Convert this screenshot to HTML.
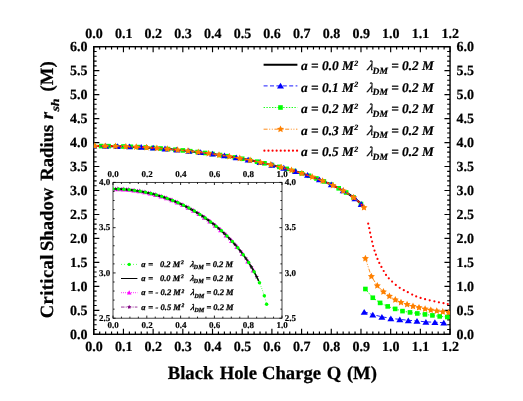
<!DOCTYPE html>
<html><head><meta charset="utf-8"><title>Critical Shadow Radius</title>
<style>
html,body{margin:0;padding:0;background:#fff;}
body{width:523px;height:401px;overflow:hidden;position:relative;font-family:"Liberation Serif",serif;}
</style></head><body>
<svg width="523" height="401" viewBox="0 0 523 401" style="position:absolute;left:0;top:0;will-change:transform" text-rendering="geometricPrecision">
<rect width="523" height="401" fill="#fff"/>
<g stroke="#000" fill="none" stroke-linecap="butt">
<rect x="93.75" y="46.7" width="356.3" height="287.6" stroke-width="1.4"/>
<path d="M93.75 46.7 v5.6 M93.75 334.3 v-5.6 M99.69 46.7 v2.9 M99.69 334.3 v-2.9 M105.63 46.7 v2.9 M105.63 334.3 v-2.9 M111.56 46.7 v2.9 M111.56 334.3 v-2.9 M117.5 46.7 v2.9 M117.5 334.3 v-2.9 M123.44 46.7 v5.6 M123.44 334.3 v-5.6 M129.38 46.7 v2.9 M129.38 334.3 v-2.9 M135.32 46.7 v2.9 M135.32 334.3 v-2.9 M141.26 46.7 v2.9 M141.26 334.3 v-2.9 M147.19 46.7 v2.9 M147.19 334.3 v-2.9 M153.13 46.7 v5.6 M153.13 334.3 v-5.6 M159.07 46.7 v2.9 M159.07 334.3 v-2.9 M165.01 46.7 v2.9 M165.01 334.3 v-2.9 M170.95 46.7 v2.9 M170.95 334.3 v-2.9 M176.89 46.7 v2.9 M176.89 334.3 v-2.9 M182.82 46.7 v5.6 M182.82 334.3 v-5.6 M188.76 46.7 v2.9 M188.76 334.3 v-2.9 M194.7 46.7 v2.9 M194.7 334.3 v-2.9 M200.64 46.7 v2.9 M200.64 334.3 v-2.9 M206.58 46.7 v2.9 M206.58 334.3 v-2.9 M212.52 46.7 v5.6 M212.52 334.3 v-5.6 M218.45 46.7 v2.9 M218.45 334.3 v-2.9 M224.39 46.7 v2.9 M224.39 334.3 v-2.9 M230.33 46.7 v2.9 M230.33 334.3 v-2.9 M236.27 46.7 v2.9 M236.27 334.3 v-2.9 M242.21 46.7 v5.6 M242.21 334.3 v-5.6 M248.15 46.7 v2.9 M248.15 334.3 v-2.9 M254.09 46.7 v2.9 M254.09 334.3 v-2.9 M260.02 46.7 v2.9 M260.02 334.3 v-2.9 M265.96 46.7 v2.9 M265.96 334.3 v-2.9 M271.9 46.7 v5.6 M271.9 334.3 v-5.6 M277.84 46.7 v2.9 M277.84 334.3 v-2.9 M283.78 46.7 v2.9 M283.78 334.3 v-2.9 M289.72 46.7 v2.9 M289.72 334.3 v-2.9 M295.65 46.7 v2.9 M295.65 334.3 v-2.9 M301.59 46.7 v5.6 M301.59 334.3 v-5.6 M307.53 46.7 v2.9 M307.53 334.3 v-2.9 M313.47 46.7 v2.9 M313.47 334.3 v-2.9 M319.41 46.7 v2.9 M319.41 334.3 v-2.9 M325.35 46.7 v2.9 M325.35 334.3 v-2.9 M331.28 46.7 v5.6 M331.28 334.3 v-5.6 M337.22 46.7 v2.9 M337.22 334.3 v-2.9 M343.16 46.7 v2.9 M343.16 334.3 v-2.9 M349.1 46.7 v2.9 M349.1 334.3 v-2.9 M355.04 46.7 v2.9 M355.04 334.3 v-2.9 M360.98 46.7 v5.6 M360.98 334.3 v-5.6 M366.91 46.7 v2.9 M366.91 334.3 v-2.9 M372.85 46.7 v2.9 M372.85 334.3 v-2.9 M378.79 46.7 v2.9 M378.79 334.3 v-2.9 M384.73 46.7 v2.9 M384.73 334.3 v-2.9 M390.67 46.7 v5.6 M390.67 334.3 v-5.6 M396.61 46.7 v2.9 M396.61 334.3 v-2.9 M402.54 46.7 v2.9 M402.54 334.3 v-2.9 M408.48 46.7 v2.9 M408.48 334.3 v-2.9 M414.42 46.7 v2.9 M414.42 334.3 v-2.9 M420.36 46.7 v5.6 M420.36 334.3 v-5.6 M426.3 46.7 v2.9 M426.3 334.3 v-2.9 M432.24 46.7 v2.9 M432.24 334.3 v-2.9 M438.17 46.7 v2.9 M438.17 334.3 v-2.9 M444.11 46.7 v2.9 M444.11 334.3 v-2.9 M450.05 46.7 v5.6 M450.05 334.3 v-5.6 M93.75 334.3 h5.6 M450.05 334.3 h-5.6 M93.75 329.51 h2.9 M450.05 329.51 h-2.9 M93.75 324.71 h2.9 M450.05 324.71 h-2.9 M93.75 319.92 h2.9 M450.05 319.92 h-2.9 M93.75 315.13 h2.9 M450.05 315.13 h-2.9 M93.75 310.33 h5.6 M450.05 310.33 h-5.6 M93.75 305.54 h2.9 M450.05 305.54 h-2.9 M93.75 300.75 h2.9 M450.05 300.75 h-2.9 M93.75 295.95 h2.9 M450.05 295.95 h-2.9 M93.75 291.16 h2.9 M450.05 291.16 h-2.9 M93.75 286.37 h5.6 M450.05 286.37 h-5.6 M93.75 281.57 h2.9 M450.05 281.57 h-2.9 M93.75 276.78 h2.9 M450.05 276.78 h-2.9 M93.75 271.99 h2.9 M450.05 271.99 h-2.9 M93.75 267.19 h2.9 M450.05 267.19 h-2.9 M93.75 262.4 h5.6 M450.05 262.4 h-5.6 M93.75 257.61 h2.9 M450.05 257.61 h-2.9 M93.75 252.81 h2.9 M450.05 252.81 h-2.9 M93.75 248.02 h2.9 M450.05 248.02 h-2.9 M93.75 243.23 h2.9 M450.05 243.23 h-2.9 M93.75 238.43 h5.6 M450.05 238.43 h-5.6 M93.75 233.64 h2.9 M450.05 233.64 h-2.9 M93.75 228.85 h2.9 M450.05 228.85 h-2.9 M93.75 224.05 h2.9 M450.05 224.05 h-2.9 M93.75 219.26 h2.9 M450.05 219.26 h-2.9 M93.75 214.47 h5.6 M450.05 214.47 h-5.6 M93.75 209.67 h2.9 M450.05 209.67 h-2.9 M93.75 204.88 h2.9 M450.05 204.88 h-2.9 M93.75 200.09 h2.9 M450.05 200.09 h-2.9 M93.75 195.29 h2.9 M450.05 195.29 h-2.9 M93.75 190.5 h5.6 M450.05 190.5 h-5.6 M93.75 185.71 h2.9 M450.05 185.71 h-2.9 M93.75 180.91 h2.9 M450.05 180.91 h-2.9 M93.75 176.12 h2.9 M450.05 176.12 h-2.9 M93.75 171.33 h2.9 M450.05 171.33 h-2.9 M93.75 166.53 h5.6 M450.05 166.53 h-5.6 M93.75 161.74 h2.9 M450.05 161.74 h-2.9 M93.75 156.95 h2.9 M450.05 156.95 h-2.9 M93.75 152.15 h2.9 M450.05 152.15 h-2.9 M93.75 147.36 h2.9 M450.05 147.36 h-2.9 M93.75 142.57 h5.6 M450.05 142.57 h-5.6 M93.75 137.77 h2.9 M450.05 137.77 h-2.9 M93.75 132.98 h2.9 M450.05 132.98 h-2.9 M93.75 128.19 h2.9 M450.05 128.19 h-2.9 M93.75 123.39 h2.9 M450.05 123.39 h-2.9 M93.75 118.6 h5.6 M450.05 118.6 h-5.6 M93.75 113.81 h2.9 M450.05 113.81 h-2.9 M93.75 109.01 h2.9 M450.05 109.01 h-2.9 M93.75 104.22 h2.9 M450.05 104.22 h-2.9 M93.75 99.43 h2.9 M450.05 99.43 h-2.9 M93.75 94.63 h5.6 M450.05 94.63 h-5.6 M93.75 89.84 h2.9 M450.05 89.84 h-2.9 M93.75 85.05 h2.9 M450.05 85.05 h-2.9 M93.75 80.25 h2.9 M450.05 80.25 h-2.9 M93.75 75.46 h2.9 M450.05 75.46 h-2.9 M93.75 70.67 h5.6 M450.05 70.67 h-5.6 M93.75 65.87 h2.9 M450.05 65.87 h-2.9 M93.75 61.08 h2.9 M450.05 61.08 h-2.9 M93.75 56.29 h2.9 M450.05 56.29 h-2.9 M93.75 51.49 h2.9 M450.05 51.49 h-2.9 M93.75 46.7 h5.6 M450.05 46.7 h-5.6" stroke-width="1.15"/>
</g>
<g font-family="Liberation Serif, serif" font-weight="bold" font-size="14" fill="#000" stroke="#000" stroke-width="0.2">
<text x="93.95" y="37.5" text-anchor="middle">0.0</text>
<text x="93.95" y="350.9" text-anchor="middle">0.0</text>
<text x="123.64" y="37.5" text-anchor="middle">0.1</text>
<text x="123.64" y="350.9" text-anchor="middle">0.1</text>
<text x="153.33" y="37.5" text-anchor="middle">0.2</text>
<text x="153.33" y="350.9" text-anchor="middle">0.2</text>
<text x="183.03" y="37.5" text-anchor="middle">0.3</text>
<text x="183.03" y="350.9" text-anchor="middle">0.3</text>
<text x="212.72" y="37.5" text-anchor="middle">0.4</text>
<text x="212.72" y="350.9" text-anchor="middle">0.4</text>
<text x="242.41" y="37.5" text-anchor="middle">0.5</text>
<text x="242.41" y="350.9" text-anchor="middle">0.5</text>
<text x="272.1" y="37.5" text-anchor="middle">0.6</text>
<text x="272.1" y="350.9" text-anchor="middle">0.6</text>
<text x="301.79" y="37.5" text-anchor="middle">0.7</text>
<text x="301.79" y="350.9" text-anchor="middle">0.7</text>
<text x="331.48" y="37.5" text-anchor="middle">0.8</text>
<text x="331.48" y="350.9" text-anchor="middle">0.8</text>
<text x="361.18" y="37.5" text-anchor="middle">0.9</text>
<text x="361.18" y="350.9" text-anchor="middle">0.9</text>
<text x="390.87" y="37.5" text-anchor="middle">1.0</text>
<text x="390.87" y="350.9" text-anchor="middle">1.0</text>
<text x="420.56" y="37.5" text-anchor="middle">1.1</text>
<text x="420.56" y="350.9" text-anchor="middle">1.1</text>
<text x="450.25" y="37.5" text-anchor="middle">1.2</text>
<text x="450.25" y="350.9" text-anchor="middle">1.2</text>
<text x="87.4" y="338.8" text-anchor="end">0.0</text>
<text x="456.5" y="338.7" text-anchor="start">0.0</text>
<text x="87.4" y="314.83" text-anchor="end">0.5</text>
<text x="456.5" y="314.73" text-anchor="start">0.5</text>
<text x="87.4" y="290.87" text-anchor="end">1.0</text>
<text x="456.5" y="290.77" text-anchor="start">1.0</text>
<text x="87.4" y="266.9" text-anchor="end">1.5</text>
<text x="456.5" y="266.8" text-anchor="start">1.5</text>
<text x="87.4" y="242.93" text-anchor="end">2.0</text>
<text x="456.5" y="242.83" text-anchor="start">2.0</text>
<text x="87.4" y="218.97" text-anchor="end">2.5</text>
<text x="456.5" y="218.87" text-anchor="start">2.5</text>
<text x="87.4" y="195" text-anchor="end">3.0</text>
<text x="456.5" y="194.9" text-anchor="start">3.0</text>
<text x="87.4" y="171.03" text-anchor="end">3.5</text>
<text x="456.5" y="170.93" text-anchor="start">3.5</text>
<text x="87.4" y="147.07" text-anchor="end">4.0</text>
<text x="456.5" y="146.97" text-anchor="start">4.0</text>
<text x="87.4" y="123.1" text-anchor="end">4.5</text>
<text x="456.5" y="123" text-anchor="start">4.5</text>
<text x="87.4" y="99.13" text-anchor="end">5.0</text>
<text x="456.5" y="99.03" text-anchor="start">5.0</text>
<text x="87.4" y="75.17" text-anchor="end">5.5</text>
<text x="456.5" y="75.07" text-anchor="start">5.5</text>
<text x="87.4" y="51.2" text-anchor="end">6.0</text>
<text x="456.5" y="51.1" text-anchor="start">6.0</text>
</g>
<g font-family="Liberation Serif, serif" font-weight="bold" font-size="18.67" fill="#000" stroke="#000" stroke-width="0.25">
<text x="167.7" y="378.7">Black</text>
<text x="219.7" y="378.7">Hole</text>
<text x="262.0" y="378.7">Charge</text>
<text x="326.8" y="378.7">Q</text>
<text x="346.9" y="378.7">(M)</text>
<g transform="translate(52.6 318.2) rotate(-90)">
<text x="0" y="0" letter-spacing="0.35">Critical</text>
<text x="67.2" y="0">Shadow</text>
<text x="137.5" y="0">Radius</text>
<text x="199.0" y="0" font-style="italic">r</text>
<text x="226.8" y="0">(M)</text>
<text transform="translate(206.6 5.9) scale(1.22 1)" font-style="italic" font-size="11.5">sh</text>
</g>
</g>
<clipPath id="mc"><rect x="93.75" y="46.7" width="356.3" height="287.6"/></clipPath>
<g clip-path="url(#mc)">
<path d="M93.75 146.05 L95.11 146.05 L96.47 146.05 L97.83 146.06 L99.18 146.06 L100.54 146.07 L101.9 146.08 L103.26 146.09 L104.62 146.11 L105.98 146.13 L107.34 146.15 L108.7 146.17 L110.05 146.19 L111.41 146.21 L112.77 146.24 L114.13 146.27 L115.49 146.3 L116.85 146.33 L118.21 146.37 L119.56 146.41 L120.92 146.44 L122.28 146.49 L123.64 146.53 L125 146.57 L126.36 146.62 L127.72 146.67 L129.08 146.72 L130.43 146.77 L131.79 146.83 L133.15 146.89 L134.51 146.95 L135.87 147.01 L137.23 147.07 L138.59 147.13 L139.94 147.2 L141.3 147.27 L142.66 147.34 L144.02 147.42 L145.38 147.49 L146.74 147.57 L148.1 147.65 L149.45 147.73 L150.81 147.82 L152.17 147.9 L153.53 147.99 L154.89 148.08 L156.25 148.17 L157.61 148.27 L158.97 148.36 L160.32 148.46 L161.68 148.56 L163.04 148.67 L164.4 148.77 L165.76 148.88 L167.12 148.99 L168.48 149.1 L169.83 149.22 L171.19 149.33 L172.55 149.45 L173.91 149.57 L175.27 149.69 L176.63 149.82 L177.99 149.95 L179.35 150.08 L180.7 150.21 L182.06 150.34 L183.42 150.48 L184.78 150.62 L186.14 150.76 L187.5 150.9 L188.86 151.05 L190.21 151.19 L191.57 151.34 L192.93 151.5 L194.29 151.65 L195.65 151.81 L197.01 151.97 L198.37 152.13 L199.73 152.3 L201.08 152.46 L202.44 152.63 L203.8 152.8 L205.16 152.98 L206.52 153.15 L207.88 153.33 L209.24 153.52 L210.59 153.7 L211.95 153.89 L213.31 154.08 L214.67 154.27 L216.03 154.46 L217.39 154.66 L218.75 154.86 L220.1 155.06 L221.46 155.27 L222.82 155.48 L224.18 155.69 L225.54 155.9 L226.9 156.12 L228.26 156.34 L229.62 156.56 L230.97 156.78 L232.33 157.01 L233.69 157.24 L235.05 157.48 L236.41 157.71 L237.77 157.95 L239.13 158.19 L240.48 158.44 L241.84 158.69 L243.2 158.94 L244.56 159.19 L245.92 159.45 L247.28 159.71 L248.64 159.98 L250 160.24 L251.35 160.52 L252.71 160.79 L254.07 161.07 L255.43 161.35 L256.79 161.63 L258.15 161.92 L259.51 162.21 L260.86 162.51 L262.22 162.8 L263.58 163.11 L264.94 163.41 L266.3 163.72 L267.66 164.03 L269.02 164.35 L270.38 164.67 L271.73 165 L273.09 165.33 L274.45 165.66 L275.81 166 L277.17 166.34 L278.53 166.69 L279.89 167.04 L281.24 167.39 L282.6 167.75 L283.96 168.11 L285.32 168.48 L286.68 168.86 L288.04 169.23 L289.4 169.62 L290.75 170 L292.11 170.4 L293.47 170.8 L294.83 171.2 L296.19 171.61 L297.55 172.03 L298.91 172.45 L300.27 172.87 L301.62 173.31 L302.98 173.75 L304.34 174.19 L305.7 174.64 L307.06 175.1 L308.42 175.57 L309.78 176.04 L311.13 176.52 L312.49 177.01 L313.85 177.5 L315.21 178 L316.57 178.51 L317.93 179.03 L319.29 179.56 L320.65 180.1 L322 180.64 L323.36 181.2 L324.72 181.77 L326.08 182.34 L327.44 182.93 L328.8 183.53 L330.16 184.14 L331.51 184.77 L332.87 185.41 L334.23 186.06 L335.59 186.72 L336.95 187.4 L338.31 188.1 L339.67 188.82 L341.03 189.55 L342.38 190.31 L343.74 191.08 L345.1 191.88 L346.46 192.7 L347.82 193.55 L349.18 194.43 L350.54 195.35 L351.89 196.29 L353.25 197.28 L354.61 198.32 L355.97 199.41 L357.33 200.55 L358.69 201.77 L360.05 203.08 L361.41 204.49 L362.76 206.05 L364.12 207.79" stroke="#000" stroke-width="2" fill="none"/>
<g>
<path d="M93.75 146.05 L95.11 146.05 L96.47 146.05 L97.83 146.06 L99.18 146.06 L100.54 146.07 L101.9 146.08 L103.26 146.09 L104.62 146.11 L105.98 146.13 L107.34 146.15 L108.7 146.17 L110.05 146.19 L111.41 146.21 L112.77 146.24 L114.13 146.27 L115.49 146.3 L116.85 146.33 L118.21 146.37 L119.56 146.41 L120.92 146.44 L122.28 146.49 L123.64 146.53 L125 146.57 L126.36 146.62 L127.72 146.67 L129.08 146.72 L130.43 146.77 L131.79 146.83 L133.15 146.89 L134.51 146.95 L135.87 147.01 L137.23 147.07 L138.59 147.13 L139.94 147.2 L141.3 147.27 L142.66 147.34 L144.02 147.42 L145.38 147.49 L146.74 147.57 L148.1 147.65 L149.45 147.73 L150.81 147.82 L152.17 147.9 L153.53 147.99 L154.89 148.08 L156.25 148.17 L157.61 148.27 L158.97 148.36 L160.32 148.46 L161.68 148.56 L163.04 148.67 L164.4 148.77 L165.76 148.88 L167.12 148.99 L168.48 149.1 L169.83 149.22 L171.19 149.33 L172.55 149.45 L173.91 149.57 L175.27 149.69 L176.63 149.82 L177.99 149.95 L179.35 150.08 L180.7 150.21 L182.06 150.34 L183.42 150.48 L184.78 150.62 L186.14 150.76 L187.5 150.9 L188.86 151.05 L190.21 151.19 L191.57 151.34 L192.93 151.5 L194.29 151.65 L195.65 151.81 L197.01 151.97 L198.37 152.13 L199.73 152.3 L201.08 152.46 L202.44 152.63 L203.8 152.8 L205.16 152.98 L206.52 153.15 L207.88 153.33 L209.24 153.52 L210.59 153.7 L211.95 153.89 L213.31 154.08 L214.67 154.27 L216.03 154.46 L217.39 154.66 L218.75 154.86 L220.1 155.06 L221.46 155.27 L222.82 155.48 L224.18 155.69 L225.54 155.9 L226.9 156.12 L228.26 156.34 L229.62 156.56 L230.97 156.78 L232.33 157.01 L233.69 157.24 L235.05 157.48 L236.41 157.71 L237.77 157.95 L239.13 158.19 L240.48 158.44 L241.84 158.69 L243.2 158.94 L244.56 159.19 L245.92 159.45 L247.28 159.71 L248.64 159.98 L250 160.24 L251.35 160.52 L252.71 160.79 L254.07 161.07 L255.43 161.35 L256.79 161.63 L258.15 161.92 L259.51 162.21 L260.86 162.51 L262.22 162.8 L263.58 163.11 L264.94 163.41 L266.3 163.72 L267.66 164.03 L269.02 164.35 L270.38 164.67 L271.73 165 L273.09 165.33 L274.45 165.66 L275.81 166 L277.17 166.34 L278.53 166.69 L279.89 167.04 L281.24 167.39 L282.6 167.75 L283.96 168.11 L285.32 168.48 L286.68 168.86 L288.04 169.23 L289.4 169.62 L290.75 170 L292.11 170.4 L293.47 170.8 L294.83 171.2 L296.19 171.61 L297.55 172.03 L298.91 172.45 L300.27 172.87 L301.62 173.31 L302.98 173.75 L304.34 174.19 L305.7 174.64 L307.06 175.1 L308.42 175.57 L309.78 176.04 L311.13 176.52 L312.49 177.01 L313.85 177.5 L315.21 178 L316.57 178.51 L317.93 179.03 L319.29 179.56 L320.65 180.1 L322 180.64 L323.36 181.2 L324.72 181.77 L326.08 182.34 L327.44 182.93 L328.8 183.53 L330.16 184.14 L331.51 184.77 L332.87 185.41 L334.23 186.06 L335.59 186.72 L336.95 187.4 L338.31 188.1 L339.67 188.82 L341.03 189.55 L342.38 190.31 L343.74 191.08 L345.1 191.88 L346.46 192.7 L347.82 193.55 L349.18 194.43 L350.54 195.35 L351.89 196.29 L353.25 197.28 L354.61 198.32 L355.97 199.41 L357.33 200.55 L358.69 201.77 L360.05 203.08 L361.41 204.49 L362.76 206.05 L364.12 207.79" stroke="#00ff00" stroke-width="0.9" stroke-dasharray="1.4 1.4" fill="none"/>
<path d="M365.4 289 L372.8 297.75 L380.1 302.9 L387.7 306.4 L395.2 308.9 L402.5 311.1 L410 312.4 L417.3 313.45 L425 314.4 L432.4 315.4 L439.7 316.4 L447.3 317" stroke="#00ff00" stroke-width="0.9" stroke-dasharray="1.4 1.4" fill="none"/>
<rect x="91.45" y="143.75" width="4.6" height="4.6" fill="#00ff00"/>
<rect x="98.87" y="143.78" width="4.6" height="4.6" fill="#00ff00"/>
<rect x="106.3" y="143.86" width="4.6" height="4.6" fill="#00ff00"/>
<rect x="113.72" y="144.01" width="4.6" height="4.6" fill="#00ff00"/>
<rect x="121.14" y="144.22" width="4.6" height="4.6" fill="#00ff00"/>
<rect x="128.56" y="144.49" width="4.6" height="4.6" fill="#00ff00"/>
<rect x="135.99" y="144.82" width="4.6" height="4.6" fill="#00ff00"/>
<rect x="143.41" y="145.21" width="4.6" height="4.6" fill="#00ff00"/>
<rect x="150.83" y="145.66" width="4.6" height="4.6" fill="#00ff00"/>
<rect x="158.26" y="146.18" width="4.6" height="4.6" fill="#00ff00"/>
<rect x="165.68" y="146.76" width="4.6" height="4.6" fill="#00ff00"/>
<rect x="173.1" y="147.41" width="4.6" height="4.6" fill="#00ff00"/>
<rect x="180.53" y="148.12" width="4.6" height="4.6" fill="#00ff00"/>
<rect x="187.95" y="148.9" width="4.6" height="4.6" fill="#00ff00"/>
<rect x="195.37" y="149.75" width="4.6" height="4.6" fill="#00ff00"/>
<rect x="202.79" y="150.67" width="4.6" height="4.6" fill="#00ff00"/>
<rect x="210.22" y="151.67" width="4.6" height="4.6" fill="#00ff00"/>
<rect x="217.64" y="152.74" width="4.6" height="4.6" fill="#00ff00"/>
<rect x="225.06" y="153.89" width="4.6" height="4.6" fill="#00ff00"/>
<rect x="232.49" y="155.13" width="4.6" height="4.6" fill="#00ff00"/>
<rect x="239.91" y="156.46" width="4.6" height="4.6" fill="#00ff00"/>
<rect x="247.33" y="157.87" width="4.6" height="4.6" fill="#00ff00"/>
<rect x="254.75" y="159.39" width="4.6" height="4.6" fill="#00ff00"/>
<rect x="262.18" y="161.01" width="4.6" height="4.6" fill="#00ff00"/>
<rect x="269.6" y="162.74" width="4.6" height="4.6" fill="#00ff00"/>
<rect x="277.02" y="164.59" width="4.6" height="4.6" fill="#00ff00"/>
<rect x="284.45" y="166.57" width="4.6" height="4.6" fill="#00ff00"/>
<rect x="291.87" y="168.7" width="4.6" height="4.6" fill="#00ff00"/>
<rect x="299.29" y="171" width="4.6" height="4.6" fill="#00ff00"/>
<rect x="306.71" y="173.47" width="4.6" height="4.6" fill="#00ff00"/>
<rect x="314.14" y="176.16" width="4.6" height="4.6" fill="#00ff00"/>
<rect x="321.56" y="179.11" width="4.6" height="4.6" fill="#00ff00"/>
<rect x="328.98" y="182.36" width="4.6" height="4.6" fill="#00ff00"/>
<rect x="336.41" y="186.01" width="4.6" height="4.6" fill="#00ff00"/>
<rect x="343.83" y="190.2" width="4.6" height="4.6" fill="#00ff00"/>
<rect x="351.25" y="195.21" width="4.6" height="4.6" fill="#00ff00"/>
<rect x="358.68" y="201.73" width="4.6" height="4.6" fill="#00ff00"/>
<rect x="363.1" y="286.7" width="4.6" height="4.6" fill="#00ff00"/>
<rect x="370.5" y="295.45" width="4.6" height="4.6" fill="#00ff00"/>
<rect x="377.8" y="300.6" width="4.6" height="4.6" fill="#00ff00"/>
<rect x="385.4" y="304.1" width="4.6" height="4.6" fill="#00ff00"/>
<rect x="392.9" y="306.6" width="4.6" height="4.6" fill="#00ff00"/>
<rect x="400.2" y="308.8" width="4.6" height="4.6" fill="#00ff00"/>
<rect x="407.7" y="310.1" width="4.6" height="4.6" fill="#00ff00"/>
<rect x="415" y="311.15" width="4.6" height="4.6" fill="#00ff00"/>
<rect x="422.7" y="312.1" width="4.6" height="4.6" fill="#00ff00"/>
<rect x="430.1" y="313.1" width="4.6" height="4.6" fill="#00ff00"/>
<rect x="437.4" y="314.1" width="4.6" height="4.6" fill="#00ff00"/>
<rect x="445" y="314.7" width="4.6" height="4.6" fill="#00ff00"/>
</g>
<g>
<path d="M93.75 146.05 L95.11 146.05 L96.47 146.05 L97.83 146.06 L99.18 146.06 L100.54 146.07 L101.9 146.08 L103.26 146.09 L104.62 146.11 L105.98 146.13 L107.34 146.15 L108.7 146.17 L110.05 146.19 L111.41 146.21 L112.77 146.24 L114.13 146.27 L115.49 146.3 L116.85 146.33 L118.21 146.37 L119.56 146.41 L120.92 146.44 L122.28 146.49 L123.64 146.53 L125 146.57 L126.36 146.62 L127.72 146.67 L129.08 146.72 L130.43 146.77 L131.79 146.83 L133.15 146.89 L134.51 146.95 L135.87 147.01 L137.23 147.07 L138.59 147.13 L139.94 147.2 L141.3 147.27 L142.66 147.34 L144.02 147.42 L145.38 147.49 L146.74 147.57 L148.1 147.65 L149.45 147.73 L150.81 147.82 L152.17 147.9 L153.53 147.99 L154.89 148.08 L156.25 148.17 L157.61 148.27 L158.97 148.36 L160.32 148.46 L161.68 148.56 L163.04 148.67 L164.4 148.77 L165.76 148.88 L167.12 148.99 L168.48 149.1 L169.83 149.22 L171.19 149.33 L172.55 149.45 L173.91 149.57 L175.27 149.69 L176.63 149.82 L177.99 149.95 L179.35 150.08 L180.7 150.21 L182.06 150.34 L183.42 150.48 L184.78 150.62 L186.14 150.76 L187.5 150.9 L188.86 151.05 L190.21 151.19 L191.57 151.34 L192.93 151.5 L194.29 151.65 L195.65 151.81 L197.01 151.97 L198.37 152.13 L199.73 152.3 L201.08 152.46 L202.44 152.63 L203.8 152.8 L205.16 152.98 L206.52 153.15 L207.88 153.33 L209.24 153.52 L210.59 153.7 L211.95 153.89 L213.31 154.08 L214.67 154.27 L216.03 154.46 L217.39 154.66 L218.75 154.86 L220.1 155.06 L221.46 155.27 L222.82 155.48 L224.18 155.69 L225.54 155.9 L226.9 156.12 L228.26 156.34 L229.62 156.56 L230.97 156.78 L232.33 157.01 L233.69 157.24 L235.05 157.48 L236.41 157.71 L237.77 157.95 L239.13 158.19 L240.48 158.44 L241.84 158.69 L243.2 158.94 L244.56 159.19 L245.92 159.45 L247.28 159.71 L248.64 159.98 L250 160.24 L251.35 160.52 L252.71 160.79 L254.07 161.07 L255.43 161.35 L256.79 161.63 L258.15 161.92 L259.51 162.21 L260.86 162.51 L262.22 162.8 L263.58 163.11 L264.94 163.41 L266.3 163.72 L267.66 164.03 L269.02 164.35 L270.38 164.67 L271.73 165 L273.09 165.33 L274.45 165.66 L275.81 166 L277.17 166.34 L278.53 166.69 L279.89 167.04 L281.24 167.39 L282.6 167.75 L283.96 168.11 L285.32 168.48 L286.68 168.86 L288.04 169.23 L289.4 169.62 L290.75 170 L292.11 170.4 L293.47 170.8 L294.83 171.2 L296.19 171.61 L297.55 172.03 L298.91 172.45 L300.27 172.87 L301.62 173.31 L302.98 173.75 L304.34 174.19 L305.7 174.64 L307.06 175.1 L308.42 175.57 L309.78 176.04 L311.13 176.52 L312.49 177.01 L313.85 177.5 L315.21 178 L316.57 178.51 L317.93 179.03 L319.29 179.56 L320.65 180.1 L322 180.64 L323.36 181.2 L324.72 181.77 L326.08 182.34 L327.44 182.93 L328.8 183.53 L330.16 184.14 L331.51 184.77 L332.87 185.41 L334.23 186.06 L335.59 186.72 L336.95 187.4 L338.31 188.1 L339.67 188.82 L341.03 189.55 L342.38 190.31 L343.74 191.08 L345.1 191.88 L346.46 192.7 L347.82 193.55 L349.18 194.43 L350.54 195.35 L351.89 196.29 L353.25 197.28 L354.61 198.32 L355.97 199.41 L357.33 200.55 L358.69 201.77 L360.05 203.08 L361.41 204.49 L362.76 206.05 L364.12 207.79" stroke="#0000ff" stroke-width="0.9" stroke-dasharray="4 2.4" fill="none"/>
<path d="M364.2 311.85 L372.8 314.6 L381.9 316.8 L390.85 318.35 L399.8 319.4 L408.3 320.3 L417 320.9 L425.9 321.9 L434.9 322.2 L443.8 322.7" stroke="#0000ff" stroke-width="0.9" stroke-dasharray="4 2.4" fill="none"/>
<polygon points="93.75,142.85 90.25,148.65 97.25,148.65" fill="#0000ff"/>
<polygon points="105.63,142.92 102.13,148.72 109.13,148.72" fill="#0000ff"/>
<polygon points="117.5,143.15 114,148.95 121,148.95" fill="#0000ff"/>
<polygon points="129.38,143.53 125.88,149.33 132.88,149.33" fill="#0000ff"/>
<polygon points="141.26,144.07 137.76,149.87 144.76,149.87" fill="#0000ff"/>
<polygon points="153.13,144.76 149.63,150.56 156.63,150.56" fill="#0000ff"/>
<polygon points="165.01,145.62 161.51,151.42 168.51,151.42" fill="#0000ff"/>
<polygon points="176.89,146.64 173.39,152.44 180.39,152.44" fill="#0000ff"/>
<polygon points="188.76,147.84 185.26,153.64 192.26,153.64" fill="#0000ff"/>
<polygon points="200.64,149.21 197.14,155.01 204.14,155.01" fill="#0000ff"/>
<polygon points="212.52,150.77 209.02,156.57 216.02,156.57" fill="#0000ff"/>
<polygon points="224.39,152.52 220.89,158.32 227.89,158.32" fill="#0000ff"/>
<polygon points="236.27,154.49 232.77,160.29 239.77,160.29" fill="#0000ff"/>
<polygon points="248.15,156.68 244.65,162.48 251.65,162.48" fill="#0000ff"/>
<polygon points="260.02,159.12 256.52,164.92 263.52,164.92" fill="#0000ff"/>
<polygon points="271.9,161.84 268.4,167.64 275.4,167.64" fill="#0000ff"/>
<polygon points="283.78,164.86 280.28,170.66 287.28,170.66" fill="#0000ff"/>
<polygon points="295.65,168.25 292.15,174.05 299.15,174.05" fill="#0000ff"/>
<polygon points="307.53,172.06 304.03,177.86 311.03,177.86" fill="#0000ff"/>
<polygon points="319.41,176.41 315.91,182.21 322.91,182.21" fill="#0000ff"/>
<polygon points="331.28,181.46 327.78,187.26 334.78,187.26" fill="#0000ff"/>
<polygon points="343.16,187.55 339.66,193.35 346.66,193.35" fill="#0000ff"/>
<polygon points="355.04,195.45 351.54,201.25 358.54,201.25" fill="#0000ff"/>
<polygon points="361.21,201.09 357.71,206.89 364.71,206.89" fill="#0000ff"/>
<polygon points="364.2,308.95 360.7,314.75 367.7,314.75" fill="#0000ff"/>
<polygon points="372.8,311.7 369.3,317.5 376.3,317.5" fill="#0000ff"/>
<polygon points="381.9,313.9 378.4,319.7 385.4,319.7" fill="#0000ff"/>
<polygon points="390.85,315.45 387.35,321.25 394.35,321.25" fill="#0000ff"/>
<polygon points="399.8,316.5 396.3,322.3 403.3,322.3" fill="#0000ff"/>
<polygon points="408.3,317.4 404.8,323.2 411.8,323.2" fill="#0000ff"/>
<polygon points="417,318 413.5,323.8 420.5,323.8" fill="#0000ff"/>
<polygon points="425.9,319 422.4,324.8 429.4,324.8" fill="#0000ff"/>
<polygon points="434.9,319.3 431.4,325.1 438.4,325.1" fill="#0000ff"/>
<polygon points="443.8,319.8 440.3,325.6 447.3,325.6" fill="#0000ff"/>
</g>
<g fill="#ff0000">
<circle cx="98.15" cy="146.06" r="1.1"/>
<circle cx="102.65" cy="146.09" r="1.1"/>
<circle cx="107.15" cy="146.14" r="1.1"/>
<circle cx="111.65" cy="146.22" r="1.1"/>
<circle cx="116.15" cy="146.32" r="1.1"/>
<circle cx="120.65" cy="146.44" r="1.1"/>
<circle cx="125.14" cy="146.58" r="1.1"/>
<circle cx="129.64" cy="146.74" r="1.1"/>
<circle cx="134.14" cy="146.93" r="1.1"/>
<circle cx="138.63" cy="147.14" r="1.1"/>
<circle cx="143.13" cy="147.37" r="1.1"/>
<circle cx="147.62" cy="147.62" r="1.1"/>
<circle cx="152.11" cy="147.9" r="1.1"/>
<circle cx="156.6" cy="148.2" r="1.1"/>
<circle cx="161.09" cy="148.52" r="1.1"/>
<circle cx="165.58" cy="148.87" r="1.1"/>
<circle cx="170.06" cy="149.23" r="1.1"/>
<circle cx="174.54" cy="149.63" r="1.1"/>
<circle cx="179.02" cy="150.04" r="1.1"/>
<circle cx="183.5" cy="150.49" r="1.1"/>
<circle cx="187.98" cy="150.95" r="1.1"/>
<circle cx="192.45" cy="151.44" r="1.1"/>
<circle cx="196.92" cy="151.96" r="1.1"/>
<circle cx="201.39" cy="152.5" r="1.1"/>
<circle cx="205.85" cy="153.07" r="1.1"/>
<circle cx="210.31" cy="153.66" r="1.1"/>
<circle cx="214.77" cy="154.28" r="1.1"/>
<circle cx="219.22" cy="154.93" r="1.1"/>
<circle cx="223.67" cy="155.61" r="1.1"/>
<circle cx="228.12" cy="156.31" r="1.1"/>
<circle cx="232.56" cy="157.05" r="1.1"/>
<circle cx="236.99" cy="157.81" r="1.1"/>
<circle cx="241.42" cy="158.61" r="1.1"/>
<circle cx="245.84" cy="159.44" r="1.1"/>
<circle cx="250.26" cy="160.3" r="1.1"/>
<circle cx="254.67" cy="161.19" r="1.1"/>
<circle cx="259.07" cy="162.12" r="1.1"/>
<circle cx="263.47" cy="163.08" r="1.1"/>
<circle cx="267.86" cy="164.08" r="1.1"/>
<circle cx="272.24" cy="165.12" r="1.1"/>
<circle cx="276.6" cy="166.2" r="1.1"/>
<circle cx="280.96" cy="167.32" r="1.1"/>
<circle cx="285.31" cy="168.48" r="1.1"/>
<circle cx="289.65" cy="169.69" r="1.1"/>
<circle cx="293.97" cy="170.94" r="1.1"/>
<circle cx="298.27" cy="172.25" r="1.1"/>
<circle cx="302.56" cy="173.61" r="1.1"/>
<circle cx="306.83" cy="175.02" r="1.1"/>
<circle cx="311.08" cy="176.5" r="1.1"/>
<circle cx="315.31" cy="178.04" r="1.1"/>
<circle cx="319.52" cy="179.65" r="1.1"/>
<circle cx="323.69" cy="181.34" r="1.1"/>
<circle cx="327.83" cy="183.1" r="1.1"/>
<circle cx="331.93" cy="184.96" r="1.1"/>
<circle cx="335.98" cy="186.92" r="1.1"/>
<circle cx="339.97" cy="188.98" r="1.1"/>
<circle cx="343.9" cy="191.18" r="1.1"/>
<circle cx="347.75" cy="193.51" r="1.1"/>
<circle cx="351.49" cy="196.01" r="1.1"/>
<circle cx="355.1" cy="198.7" r="1.1"/>
<circle cx="358.52" cy="201.62" r="1.1"/>
<circle cx="361.69" cy="204.81" r="1.1"/>
<circle cx="368.2" cy="223.7" r="1.1"/>
<circle cx="369.2" cy="228.2" r="1.1"/>
<circle cx="370.1" cy="232.7" r="1.1"/>
<circle cx="371" cy="237.1" r="1.1"/>
<circle cx="372.1" cy="241.6" r="1.1"/>
<circle cx="373.1" cy="246.1" r="1.1"/>
<circle cx="374.5" cy="250.6" r="1.1"/>
<circle cx="375.9" cy="254.7" r="1.1"/>
<circle cx="377.5" cy="258.9" r="1.1"/>
<circle cx="379.3" cy="262.9" r="1.1"/>
<circle cx="381.4" cy="266.9" r="1.1"/>
<circle cx="383.7" cy="271" r="1.1"/>
<circle cx="386" cy="274.9" r="1.1"/>
<circle cx="388.8" cy="278.3" r="1.1"/>
<circle cx="392.1" cy="281.6" r="1.1"/>
<circle cx="395.8" cy="284.9" r="1.1"/>
<circle cx="399.7" cy="287.8" r="1.1"/>
<circle cx="403.8" cy="290.2" r="1.1"/>
<circle cx="407.8" cy="292.2" r="1.1"/>
<circle cx="412.2" cy="294.6" r="1.1"/>
<circle cx="416.2" cy="296.4" r="1.1"/>
<circle cx="420.6" cy="297.9" r="1.1"/>
<circle cx="425.1" cy="299.2" r="1.1"/>
<circle cx="429.7" cy="300.3" r="1.1"/>
<circle cx="434.4" cy="301.3" r="1.1"/>
<circle cx="438.9" cy="302.3" r="1.1"/>
<circle cx="443.5" cy="303.2" r="1.1"/>
<circle cx="447.8" cy="304.1" r="1.1"/>
</g>
<g>
<path d="M93.75 146.05 L95.11 146.05 L96.47 146.05 L97.83 146.06 L99.18 146.06 L100.54 146.07 L101.9 146.08 L103.26 146.09 L104.62 146.11 L105.98 146.13 L107.34 146.15 L108.7 146.17 L110.05 146.19 L111.41 146.21 L112.77 146.24 L114.13 146.27 L115.49 146.3 L116.85 146.33 L118.21 146.37 L119.56 146.41 L120.92 146.44 L122.28 146.49 L123.64 146.53 L125 146.57 L126.36 146.62 L127.72 146.67 L129.08 146.72 L130.43 146.77 L131.79 146.83 L133.15 146.89 L134.51 146.95 L135.87 147.01 L137.23 147.07 L138.59 147.13 L139.94 147.2 L141.3 147.27 L142.66 147.34 L144.02 147.42 L145.38 147.49 L146.74 147.57 L148.1 147.65 L149.45 147.73 L150.81 147.82 L152.17 147.9 L153.53 147.99 L154.89 148.08 L156.25 148.17 L157.61 148.27 L158.97 148.36 L160.32 148.46 L161.68 148.56 L163.04 148.67 L164.4 148.77 L165.76 148.88 L167.12 148.99 L168.48 149.1 L169.83 149.22 L171.19 149.33 L172.55 149.45 L173.91 149.57 L175.27 149.69 L176.63 149.82 L177.99 149.95 L179.35 150.08 L180.7 150.21 L182.06 150.34 L183.42 150.48 L184.78 150.62 L186.14 150.76 L187.5 150.9 L188.86 151.05 L190.21 151.19 L191.57 151.34 L192.93 151.5 L194.29 151.65 L195.65 151.81 L197.01 151.97 L198.37 152.13 L199.73 152.3 L201.08 152.46 L202.44 152.63 L203.8 152.8 L205.16 152.98 L206.52 153.15 L207.88 153.33 L209.24 153.52 L210.59 153.7 L211.95 153.89 L213.31 154.08 L214.67 154.27 L216.03 154.46 L217.39 154.66 L218.75 154.86 L220.1 155.06 L221.46 155.27 L222.82 155.48 L224.18 155.69 L225.54 155.9 L226.9 156.12 L228.26 156.34 L229.62 156.56 L230.97 156.78 L232.33 157.01 L233.69 157.24 L235.05 157.48 L236.41 157.71 L237.77 157.95 L239.13 158.19 L240.48 158.44 L241.84 158.69 L243.2 158.94 L244.56 159.19 L245.92 159.45 L247.28 159.71 L248.64 159.98 L250 160.24 L251.35 160.52 L252.71 160.79 L254.07 161.07 L255.43 161.35 L256.79 161.63 L258.15 161.92 L259.51 162.21 L260.86 162.51 L262.22 162.8 L263.58 163.11 L264.94 163.41 L266.3 163.72 L267.66 164.03 L269.02 164.35 L270.38 164.67 L271.73 165 L273.09 165.33 L274.45 165.66 L275.81 166 L277.17 166.34 L278.53 166.69 L279.89 167.04 L281.24 167.39 L282.6 167.75 L283.96 168.11 L285.32 168.48 L286.68 168.86 L288.04 169.23 L289.4 169.62 L290.75 170 L292.11 170.4 L293.47 170.8 L294.83 171.2 L296.19 171.61 L297.55 172.03 L298.91 172.45 L300.27 172.87 L301.62 173.31 L302.98 173.75 L304.34 174.19 L305.7 174.64 L307.06 175.1 L308.42 175.57 L309.78 176.04 L311.13 176.52 L312.49 177.01 L313.85 177.5 L315.21 178 L316.57 178.51 L317.93 179.03 L319.29 179.56 L320.65 180.1 L322 180.64 L323.36 181.2 L324.72 181.77 L326.08 182.34 L327.44 182.93 L328.8 183.53 L330.16 184.14 L331.51 184.77 L332.87 185.41 L334.23 186.06 L335.59 186.72 L336.95 187.4 L338.31 188.1 L339.67 188.82 L341.03 189.55 L342.38 190.31 L343.74 191.08 L345.1 191.88 L346.46 192.7 L347.82 193.55 L349.18 194.43 L350.54 195.35 L351.89 196.29 L353.25 197.28 L354.61 198.32 L355.97 199.41 L357.33 200.55 L358.69 201.77 L360.05 203.08 L361.41 204.49 L362.76 206.05 L364.12 207.79" stroke="#ff8000" stroke-width="0.9" stroke-dasharray="4 1.6 1 1.6 1 1.6" fill="none"/>
<path d="M365.4 258.5 L371.4 276.5 L377.3 285.7 L383.4 291.8 L389.4 296.2 L395.3 299.8 L401 302.4 L407.1 304.5 L413 306.3 L419 307.6 L425.1 308.9 L430.8 310.1 L436.8 311 L442.8 311.8 L448.6 312.5" stroke="#ff8000" stroke-width="0.9" stroke-dasharray="4 1.6 1 1.6 1 1.6" fill="none"/>
<polygon points="94.79,142.35 95.88,144.55 98.31,144.9 96.55,146.62 96.96,149.04 94.79,147.9 92.61,149.04 93.03,146.62 91.27,144.9 93.7,144.55" fill="#ff8000"/>
<polygon points="105.14,142.42 106.23,144.62 108.66,144.97 106.9,146.69 107.32,149.11 105.14,147.97 102.97,149.11 103.38,146.69 101.62,144.97 104.06,144.62" fill="#ff8000"/>
<polygon points="115.5,142.6 116.58,144.8 119.02,145.16 117.26,146.87 117.67,149.29 115.5,148.15 113.32,149.29 113.74,146.87 111.98,145.16 114.41,144.8" fill="#ff8000"/>
<polygon points="125.85,142.9 126.94,145.11 129.37,145.46 127.61,147.17 128.02,149.6 125.85,148.45 123.67,149.6 124.09,147.17 122.33,145.46 124.76,145.11" fill="#ff8000"/>
<polygon points="136.2,143.32 137.29,145.53 139.72,145.88 137.96,147.59 138.38,150.02 136.2,148.87 134.03,150.02 134.44,147.59 132.68,145.88 135.12,145.53" fill="#ff8000"/>
<polygon points="146.56,143.86 147.64,146.06 150.08,146.42 148.32,148.13 148.73,150.55 146.56,149.41 144.38,150.55 144.8,148.13 143.04,146.42 145.47,146.06" fill="#ff8000"/>
<polygon points="156.91,144.52 158,146.72 160.43,147.08 158.67,148.79 159.08,151.21 156.91,150.07 154.74,151.21 155.15,148.79 153.39,147.08 155.82,146.72" fill="#ff8000"/>
<polygon points="167.26,145.3 168.35,147.5 170.78,147.86 169.02,149.57 169.44,151.99 167.26,150.85 165.09,151.99 165.5,149.57 163.74,147.86 166.18,147.5" fill="#ff8000"/>
<polygon points="177.62,146.21 178.7,148.41 181.14,148.77 179.38,150.48 179.79,152.9 177.62,151.76 175.44,152.9 175.86,150.48 174.1,148.77 176.53,148.41" fill="#ff8000"/>
<polygon points="187.97,147.25 189.06,149.45 191.49,149.81 189.73,151.52 190.15,153.94 187.97,152.8 185.8,153.94 186.21,151.52 184.45,149.81 186.88,149.45" fill="#ff8000"/>
<polygon points="198.32,148.43 199.41,150.63 201.84,150.98 200.08,152.7 200.5,155.12 198.32,153.98 196.15,155.12 196.56,152.7 194.81,150.98 197.24,150.63" fill="#ff8000"/>
<polygon points="208.68,149.74 209.76,151.94 212.2,152.3 210.44,154.01 210.85,156.43 208.68,155.29 206.5,156.43 206.92,154.01 205.16,152.3 207.59,151.94" fill="#ff8000"/>
<polygon points="219.03,151.2 220.12,153.41 222.55,153.76 220.79,155.48 221.21,157.9 219.03,156.75 216.86,157.9 217.27,155.48 215.51,153.76 217.94,153.41" fill="#ff8000"/>
<polygon points="229.38,152.82 230.47,155.02 232.9,155.38 231.14,157.09 231.56,159.51 229.38,158.37 227.21,159.51 227.63,157.09 225.87,155.38 228.3,155.02" fill="#ff8000"/>
<polygon points="239.74,154.6 240.83,156.81 243.26,157.16 241.5,158.88 241.91,161.3 239.74,160.15 237.56,161.3 237.98,158.88 236.22,157.16 238.65,156.81" fill="#ff8000"/>
<polygon points="250.09,156.56 251.18,158.77 253.61,159.12 251.85,160.84 252.27,163.26 250.09,162.11 247.92,163.26 248.33,160.84 246.57,159.12 249,158.77" fill="#ff8000"/>
<polygon points="260.44,158.71 261.53,160.92 263.96,161.27 262.2,162.99 262.62,165.41 260.44,164.26 258.27,165.41 258.69,162.99 256.93,161.27 259.36,160.92" fill="#ff8000"/>
<polygon points="270.8,161.07 271.89,163.28 274.32,163.63 272.56,165.35 272.97,167.77 270.8,166.62 268.62,167.77 269.04,165.35 267.28,163.63 269.71,163.28" fill="#ff8000"/>
<polygon points="281.15,163.67 282.24,165.87 284.67,166.22 282.91,167.94 283.33,170.36 281.15,169.22 278.98,170.36 279.39,167.94 277.63,166.22 280.06,165.87" fill="#ff8000"/>
<polygon points="291.51,166.52 292.59,168.72 295.02,169.08 293.26,170.79 293.68,173.21 291.51,172.07 289.33,173.21 289.75,170.79 287.99,169.08 290.42,168.72" fill="#ff8000"/>
<polygon points="301.86,169.68 302.95,171.88 305.38,172.24 303.62,173.95 304.03,176.37 301.86,175.23 299.68,176.37 300.1,173.95 298.34,172.24 300.77,171.88" fill="#ff8000"/>
<polygon points="312.21,173.2 313.3,175.41 315.73,175.76 313.97,177.48 314.39,179.9 312.21,178.75 310.04,179.9 310.45,177.48 308.69,175.76 311.12,175.41" fill="#ff8000"/>
<polygon points="322.57,177.17 323.65,179.38 326.08,179.73 324.33,181.45 324.74,183.87 322.57,182.72 320.39,183.87 320.81,181.45 319.05,179.73 321.48,179.38" fill="#ff8000"/>
<polygon points="332.92,181.73 334.01,183.93 336.44,184.28 334.68,186 335.09,188.42 332.92,187.28 330.74,188.42 331.16,186 329.4,184.28 331.83,183.93" fill="#ff8000"/>
<polygon points="343.27,187.11 344.36,189.31 346.79,189.67 345.03,191.38 345.45,193.8 343.27,192.66 341.1,193.8 341.51,191.38 339.75,189.67 342.19,189.31" fill="#ff8000"/>
<polygon points="353.63,193.86 354.71,196.07 357.15,196.42 355.39,198.14 355.8,200.56 353.63,199.41 351.45,200.56 351.87,198.14 350.11,196.42 352.54,196.07" fill="#ff8000"/>
<polygon points="363.98,203.89 365.07,206.1 367.5,206.45 365.74,208.17 366.15,210.59 363.98,209.44 361.8,210.59 362.22,208.17 360.46,206.45 362.89,206.1" fill="#ff8000"/>
<polygon points="365.4,254.8 366.49,257 368.92,257.36 367.16,259.07 367.57,261.49 365.4,260.35 363.23,261.49 363.64,259.07 361.88,257.36 364.31,257" fill="#ff8000"/>
<polygon points="371.4,272.8 372.49,275 374.92,275.36 373.16,277.07 373.57,279.49 371.4,278.35 369.23,279.49 369.64,277.07 367.88,275.36 370.31,275" fill="#ff8000"/>
<polygon points="377.3,282 378.39,284.2 380.82,284.56 379.06,286.27 379.47,288.69 377.3,287.55 375.13,288.69 375.54,286.27 373.78,284.56 376.21,284.2" fill="#ff8000"/>
<polygon points="383.4,288.1 384.49,290.3 386.92,290.66 385.16,292.37 385.57,294.79 383.4,293.65 381.23,294.79 381.64,292.37 379.88,290.66 382.31,290.3" fill="#ff8000"/>
<polygon points="389.4,292.5 390.49,294.7 392.92,295.06 391.16,296.77 391.57,299.19 389.4,298.05 387.23,299.19 387.64,296.77 385.88,295.06 388.31,294.7" fill="#ff8000"/>
<polygon points="395.3,296.1 396.39,298.3 398.82,298.66 397.06,300.37 397.47,302.79 395.3,301.65 393.13,302.79 393.54,300.37 391.78,298.66 394.21,298.3" fill="#ff8000"/>
<polygon points="401,298.7 402.09,300.9 404.52,301.26 402.76,302.97 403.17,305.39 401,304.25 398.83,305.39 399.24,302.97 397.48,301.26 399.91,300.9" fill="#ff8000"/>
<polygon points="407.1,300.8 408.19,303 410.62,303.36 408.86,305.07 409.27,307.49 407.1,306.35 404.93,307.49 405.34,305.07 403.58,303.36 406.01,303" fill="#ff8000"/>
<polygon points="413,302.6 414.09,304.8 416.52,305.16 414.76,306.87 415.17,309.29 413,308.15 410.83,309.29 411.24,306.87 409.48,305.16 411.91,304.8" fill="#ff8000"/>
<polygon points="419,303.9 420.09,306.1 422.52,306.46 420.76,308.17 421.17,310.59 419,309.45 416.83,310.59 417.24,308.17 415.48,306.46 417.91,306.1" fill="#ff8000"/>
<polygon points="425.1,305.2 426.19,307.4 428.62,307.76 426.86,309.47 427.27,311.89 425.1,310.75 422.93,311.89 423.34,309.47 421.58,307.76 424.01,307.4" fill="#ff8000"/>
<polygon points="430.8,306.4 431.89,308.6 434.32,308.96 432.56,310.67 432.97,313.09 430.8,311.95 428.63,313.09 429.04,310.67 427.28,308.96 429.71,308.6" fill="#ff8000"/>
<polygon points="436.8,307.3 437.89,309.5 440.32,309.86 438.56,311.57 438.97,313.99 436.8,312.85 434.63,313.99 435.04,311.57 433.28,309.86 435.71,309.5" fill="#ff8000"/>
<polygon points="442.8,308.1 443.89,310.3 446.32,310.66 444.56,312.37 444.97,314.79 442.8,313.65 440.63,314.79 441.04,312.37 439.28,310.66 441.71,310.3" fill="#ff8000"/>
<polygon points="448.6,308.8 449.69,311 452.12,311.36 450.36,313.07 450.77,315.49 448.6,314.35 446.43,315.49 446.84,313.07 445.08,311.36 447.51,311" fill="#ff8000"/>
</g>
</g>
<path d="M263.6 64.7 H297.4" stroke="#000" stroke-width="2" fill="none"/>
<path d="M263.6 85.9 H297.4" stroke="#0000ff" stroke-width="0.9" stroke-dasharray="4 2.4" fill="none"/>
<polygon points="280.5,82.7 277,88.5 284,88.5" fill="#0000ff"/>
<path d="M263.6 107.5 H297.4" stroke="#00ff00" stroke-width="0.9" stroke-dasharray="1.4 1.4" fill="none"/>
<rect x="278.2" y="105.2" width="4.6" height="4.6" fill="#00ff00"/>
<path d="M263.6 129.2 H297.4" stroke="#ff8000" stroke-width="0.9" stroke-dasharray="4 1.6 1 1.6 1 1.6" fill="none"/>
<polygon points="280.5,125.5 281.59,127.7 284.02,128.06 282.26,129.77 282.67,132.19 280.5,131.05 278.33,132.19 278.74,129.77 276.98,128.06 279.41,127.7" fill="#ff8000"/>
<circle cx="264.4" cy="150.7" r="1.1" fill="#ff0000"/>
<circle cx="268.48" cy="150.7" r="1.1" fill="#ff0000"/>
<circle cx="272.56" cy="150.7" r="1.1" fill="#ff0000"/>
<circle cx="276.64" cy="150.7" r="1.1" fill="#ff0000"/>
<circle cx="280.72" cy="150.7" r="1.1" fill="#ff0000"/>
<circle cx="284.8" cy="150.7" r="1.1" fill="#ff0000"/>
<circle cx="288.88" cy="150.7" r="1.1" fill="#ff0000"/>
<circle cx="292.96" cy="150.7" r="1.1" fill="#ff0000"/>
<circle cx="297.04" cy="150.7" r="1.1" fill="#ff0000"/>
<g font-family="Liberation Serif, serif" font-weight="bold" font-style="italic" font-size="13.33" fill="#000" stroke="#000" stroke-width="0.2">
<text x="301.1" y="70.4">a = 0.0 M</text>
<text x="354.2" y="65.9" font-size="8">2</text>
<text transform="translate(366.9 70.4) skewX(-12)" font-weight="normal" stroke="#000" stroke-width="0.3">λ</text>
<text x="372.6" y="73.7" font-size="9.5">DM</text>
<text x="391.2" y="70.4">= 0.2 M</text>
<text x="301.1" y="91.6">a = 0.1 M</text>
<text x="354.2" y="87.1" font-size="8">2</text>
<text transform="translate(366.9 91.6) skewX(-12)" font-weight="normal" stroke="#000" stroke-width="0.3">λ</text>
<text x="372.6" y="94.9" font-size="9.5">DM</text>
<text x="391.2" y="91.6">= 0.2 M</text>
<text x="301.1" y="113.2">a = 0.2 M</text>
<text x="354.2" y="108.7" font-size="8">2</text>
<text transform="translate(366.9 113.2) skewX(-12)" font-weight="normal" stroke="#000" stroke-width="0.3">λ</text>
<text x="372.6" y="116.5" font-size="9.5">DM</text>
<text x="391.2" y="113.2">= 0.2 M</text>
<text x="301.1" y="134.9">a = 0.3 M</text>
<text x="354.2" y="130.4" font-size="8">2</text>
<text transform="translate(366.9 134.9) skewX(-12)" font-weight="normal" stroke="#000" stroke-width="0.3">λ</text>
<text x="372.6" y="138.2" font-size="9.5">DM</text>
<text x="391.2" y="134.9">= 0.2 M</text>
<text x="301.1" y="156.4">a = 0.5 M</text>
<text x="354.2" y="151.9" font-size="8">2</text>
<text transform="translate(366.9 156.4) skewX(-12)" font-weight="normal" stroke="#000" stroke-width="0.3">λ</text>
<text x="372.6" y="159.7" font-size="9.5">DM</text>
<text x="391.2" y="156.4">= 0.2 M</text>
</g>
<rect x="113" y="182.4" width="169" height="135.8" fill="#fff" stroke="#222" stroke-width="0.85"/>
<path d="M113 182.4 v2.6 M113 318.2 v-2.6 M121.45 182.4 v1.6 M121.45 318.2 v-1.6 M129.9 182.4 v1.6 M129.9 318.2 v-1.6 M138.35 182.4 v1.6 M138.35 318.2 v-1.6 M146.8 182.4 v2.6 M146.8 318.2 v-2.6 M155.25 182.4 v1.6 M155.25 318.2 v-1.6 M163.7 182.4 v1.6 M163.7 318.2 v-1.6 M172.15 182.4 v1.6 M172.15 318.2 v-1.6 M180.6 182.4 v2.6 M180.6 318.2 v-2.6 M189.05 182.4 v1.6 M189.05 318.2 v-1.6 M197.5 182.4 v1.6 M197.5 318.2 v-1.6 M205.95 182.4 v1.6 M205.95 318.2 v-1.6 M214.4 182.4 v2.6 M214.4 318.2 v-2.6 M222.85 182.4 v1.6 M222.85 318.2 v-1.6 M231.3 182.4 v1.6 M231.3 318.2 v-1.6 M239.75 182.4 v1.6 M239.75 318.2 v-1.6 M248.2 182.4 v2.6 M248.2 318.2 v-2.6 M256.65 182.4 v1.6 M256.65 318.2 v-1.6 M265.1 182.4 v1.6 M265.1 318.2 v-1.6 M273.55 182.4 v1.6 M273.55 318.2 v-1.6 M282 182.4 v2.6 M282 318.2 v-2.6 M113 318.2 h2.6 M282 318.2 h-2.6 M113 309.15 h1.6 M282 309.15 h-1.6 M113 300.09 h1.6 M282 300.09 h-1.6 M113 291.04 h1.6 M282 291.04 h-1.6 M113 281.99 h1.6 M282 281.99 h-1.6 M113 272.93 h2.6 M282 272.93 h-2.6 M113 263.88 h1.6 M282 263.88 h-1.6 M113 254.83 h1.6 M282 254.83 h-1.6 M113 245.77 h1.6 M282 245.77 h-1.6 M113 236.72 h1.6 M282 236.72 h-1.6 M113 227.67 h2.6 M282 227.67 h-2.6 M113 218.61 h1.6 M282 218.61 h-1.6 M113 209.56 h1.6 M282 209.56 h-1.6 M113 200.51 h1.6 M282 200.51 h-1.6 M113 191.45 h1.6 M282 191.45 h-1.6 M113 182.4 h2.6 M282 182.4 h-2.6" stroke="#000" stroke-width="0.85" fill="none"/>
<g font-family="Liberation Serif, serif" font-weight="bold" font-size="9" fill="#000" stroke="#000" stroke-width="0.15">
<text x="113.2" y="177.1" text-anchor="middle">0.0</text>
<text x="113.2" y="328.3" text-anchor="middle">0.0</text>
<text x="147" y="177.1" text-anchor="middle">0.2</text>
<text x="147" y="328.3" text-anchor="middle">0.2</text>
<text x="180.8" y="177.1" text-anchor="middle">0.4</text>
<text x="180.8" y="328.3" text-anchor="middle">0.4</text>
<text x="214.6" y="177.1" text-anchor="middle">0.6</text>
<text x="214.6" y="328.3" text-anchor="middle">0.6</text>
<text x="248.4" y="177.1" text-anchor="middle">0.8</text>
<text x="248.4" y="328.3" text-anchor="middle">0.8</text>
<text x="282.2" y="177.1" text-anchor="middle">1.0</text>
<text x="282.2" y="328.3" text-anchor="middle">1.0</text>
<text x="110.3" y="321" text-anchor="end">2.5</text>
<text x="284.8" y="321" text-anchor="start">2.5</text>
<text x="110.3" y="275.73" text-anchor="end">3.0</text>
<text x="284.8" y="275.73" text-anchor="start">3.0</text>
<text x="110.3" y="230.47" text-anchor="end">3.5</text>
<text x="284.8" y="230.47" text-anchor="start">3.5</text>
<text x="110.3" y="185.2" text-anchor="end">4.0</text>
<text x="284.8" y="185.2" text-anchor="start">4.0</text>
</g>
<clipPath id="ic"><rect x="113" y="182.4" width="169" height="135.8"/></clipPath>
<g clip-path="url(#ic)">
<path d="M113 188.97 L113.73 188.97 L114.46 188.98 L115.2 188.99 L115.93 189 L116.66 189.01 L117.39 189.03 L118.12 189.05 L118.86 189.08 L119.59 189.11 L120.32 189.14 L121.05 189.18 L121.78 189.21 L122.52 189.26 L123.25 189.3 L123.98 189.35 L124.71 189.4 L125.44 189.46 L126.18 189.52 L126.91 189.58 L127.64 189.65 L128.37 189.72 L129.11 189.79 L129.84 189.86 L130.57 189.94 L131.3 190.03 L132.03 190.11 L132.77 190.2 L133.5 190.3 L134.23 190.39 L134.96 190.49 L135.69 190.6 L136.43 190.7 L137.16 190.81 L137.89 190.93 L138.62 191.04 L139.35 191.17 L140.09 191.29 L140.82 191.42 L141.55 191.55 L142.28 191.68 L143.01 191.82 L143.75 191.96 L144.48 192.11 L145.21 192.26 L145.94 192.41 L146.67 192.57 L147.41 192.73 L148.14 192.89 L148.87 193.06 L149.6 193.23 L150.33 193.4 L151.07 193.58 L151.8 193.76 L152.53 193.95 L153.26 194.13 L153.99 194.33 L154.73 194.52 L155.46 194.72 L156.19 194.93 L156.92 195.13 L157.66 195.34 L158.39 195.56 L159.12 195.78 L159.85 196 L160.58 196.22 L161.32 196.45 L162.05 196.69 L162.78 196.92 L163.51 197.17 L164.24 197.41 L164.98 197.66 L165.71 197.91 L166.44 198.17 L167.17 198.43 L167.9 198.69 L168.64 198.96 L169.37 199.23 L170.1 199.51 L170.83 199.79 L171.56 200.08 L172.3 200.36 L173.03 200.66 L173.76 200.95 L174.49 201.26 L175.22 201.56 L175.96 201.87 L176.69 202.18 L177.42 202.5 L178.15 202.82 L178.88 203.15 L179.62 203.48 L180.35 203.81 L181.08 204.15 L181.81 204.5 L182.54 204.85 L183.28 205.2 L184.01 205.55 L184.74 205.92 L185.47 206.28 L186.21 206.65 L186.94 207.03 L187.67 207.41 L188.4 207.79 L189.13 208.18 L189.87 208.58 L190.6 208.97 L191.33 209.38 L192.06 209.79 L192.79 210.2 L193.53 210.62 L194.26 211.04 L194.99 211.47 L195.72 211.9 L196.45 212.34 L197.19 212.78 L197.92 213.23 L198.65 213.69 L199.38 214.15 L200.11 214.61 L200.85 215.08 L201.58 215.56 L202.31 216.04 L203.04 216.52 L203.77 217.02 L204.51 217.51 L205.24 218.02 L205.97 218.53 L206.7 219.04 L207.43 219.57 L208.17 220.09 L208.9 220.63 L209.63 221.17 L210.36 221.71 L211.09 222.27 L211.83 222.82 L212.56 223.39 L213.29 223.96 L214.02 224.54 L214.75 225.13 L215.49 225.72 L216.22 226.32 L216.95 226.93 L217.68 227.54 L218.42 228.16 L219.15 228.79 L219.88 229.43 L220.61 230.07 L221.34 230.72 L222.08 231.38 L222.81 232.05 L223.54 232.72 L224.27 233.41 L225 234.1 L225.74 234.8 L226.47 235.51 L227.2 236.23 L227.93 236.96 L228.66 237.7 L229.4 238.45 L230.13 239.21 L230.86 239.97 L231.59 240.75 L232.32 241.54 L233.06 242.34 L233.79 243.15 L234.52 243.97 L235.25 244.8 L235.98 245.65 L236.72 246.51 L237.45 247.38 L238.18 248.26 L238.91 249.16 L239.64 250.07 L240.38 250.99 L241.11 251.93 L241.84 252.89 L242.57 253.86 L243.3 254.84 L244.04 255.85 L244.77 256.87 L245.5 257.9 L246.23 258.96 L246.97 260.04 L247.7 261.14 L248.43 262.26 L249.16 263.4 L249.89 264.57 L250.63 265.76 L251.36 266.97 L252.09 268.22 L252.82 269.49 L253.55 270.8 L254.29 272.14 L255.02 273.51 L255.75 274.92 L256.48 276.37 L257.21 277.87 L257.95 279.41 L258.68 281.01" stroke="#ff00ff" stroke-width="0.8" stroke-dasharray="1 1" fill="none"/>
<polygon points="112.32,186.27 109.62,191.07 115.02,191.07" fill="#ff00ff"/>
<polygon points="117.75,186.34 115.05,191.14 120.45,191.14" fill="#ff00ff"/>
<polygon points="123.17,186.6 120.47,191.4 125.87,191.4" fill="#ff00ff"/>
<polygon points="128.6,187.04 125.9,191.84 131.3,191.84" fill="#ff00ff"/>
<polygon points="134.02,187.66 131.32,192.46 136.72,192.46" fill="#ff00ff"/>
<polygon points="139.45,188.48 136.75,193.28 142.15,193.28" fill="#ff00ff"/>
<polygon points="144.87,189.49 142.17,194.29 147.57,194.29" fill="#ff00ff"/>
<polygon points="150.3,190.69 147.6,195.49 153,195.49" fill="#ff00ff"/>
<polygon points="155.72,192.1 153.02,196.9 158.42,196.9" fill="#ff00ff"/>
<polygon points="161.15,193.7 158.45,198.5 163.85,198.5" fill="#ff00ff"/>
<polygon points="166.57,195.52 163.87,200.32 169.27,200.32" fill="#ff00ff"/>
<polygon points="172,197.55 169.3,202.35 174.7,202.35" fill="#ff00ff"/>
<polygon points="177.42,199.8 174.72,204.6 180.12,204.6" fill="#ff00ff"/>
<polygon points="182.85,202.29 180.15,207.09 185.55,207.09" fill="#ff00ff"/>
<polygon points="188.27,205.02 185.57,209.82 190.97,209.82" fill="#ff00ff"/>
<polygon points="193.7,208.02 191,212.82 196.4,212.82" fill="#ff00ff"/>
<polygon points="199.12,211.28 196.42,216.08 201.82,216.08" fill="#ff00ff"/>
<polygon points="204.55,214.84 201.85,219.64 207.25,219.64" fill="#ff00ff"/>
<polygon points="209.97,218.72 207.27,223.52 212.67,223.52" fill="#ff00ff"/>
<polygon points="215.4,222.95 212.7,227.75 218.1,227.75" fill="#ff00ff"/>
<polygon points="220.82,227.56 218.12,232.36 223.52,232.36" fill="#ff00ff"/>
<polygon points="226.25,232.6 223.55,237.4 228.95,237.4" fill="#ff00ff"/>
<polygon points="231.67,238.14 228.97,242.94 234.37,242.94" fill="#ff00ff"/>
<polygon points="237.1,244.26 234.4,249.06 239.8,249.06" fill="#ff00ff"/>
<polygon points="242.52,251.09 239.82,255.89 245.22,255.89" fill="#ff00ff"/>
<polygon points="247.95,258.82 245.25,263.62 250.65,263.62" fill="#ff00ff"/>
<polygon points="253.37,267.77 250.67,272.57 256.07,272.57" fill="#ff00ff"/>
<path d="M113 188.97 L113.73 188.97 L114.46 188.98 L115.2 188.99 L115.93 189 L116.66 189.01 L117.39 189.03 L118.12 189.05 L118.86 189.08 L119.59 189.11 L120.32 189.14 L121.05 189.18 L121.78 189.21 L122.52 189.26 L123.25 189.3 L123.98 189.35 L124.71 189.4 L125.44 189.46 L126.18 189.52 L126.91 189.58 L127.64 189.65 L128.37 189.72 L129.11 189.79 L129.84 189.86 L130.57 189.94 L131.3 190.03 L132.03 190.11 L132.77 190.2 L133.5 190.3 L134.23 190.39 L134.96 190.49 L135.69 190.6 L136.43 190.7 L137.16 190.81 L137.89 190.93 L138.62 191.04 L139.35 191.17 L140.09 191.29 L140.82 191.42 L141.55 191.55 L142.28 191.68 L143.01 191.82 L143.75 191.96 L144.48 192.11 L145.21 192.26 L145.94 192.41 L146.67 192.57 L147.41 192.73 L148.14 192.89 L148.87 193.06 L149.6 193.23 L150.33 193.4 L151.07 193.58 L151.8 193.76 L152.53 193.95 L153.26 194.13 L153.99 194.33 L154.73 194.52 L155.46 194.72 L156.19 194.93 L156.92 195.13 L157.66 195.34 L158.39 195.56 L159.12 195.78 L159.85 196 L160.58 196.22 L161.32 196.45 L162.05 196.69 L162.78 196.92 L163.51 197.17 L164.24 197.41 L164.98 197.66 L165.71 197.91 L166.44 198.17 L167.17 198.43 L167.9 198.69 L168.64 198.96 L169.37 199.23 L170.1 199.51 L170.83 199.79 L171.56 200.08 L172.3 200.36 L173.03 200.66 L173.76 200.95 L174.49 201.26 L175.22 201.56 L175.96 201.87 L176.69 202.18 L177.42 202.5 L178.15 202.82 L178.88 203.15 L179.62 203.48 L180.35 203.81 L181.08 204.15 L181.81 204.5 L182.54 204.85 L183.28 205.2 L184.01 205.55 L184.74 205.92 L185.47 206.28 L186.21 206.65 L186.94 207.03 L187.67 207.41 L188.4 207.79 L189.13 208.18 L189.87 208.58 L190.6 208.97 L191.33 209.38 L192.06 209.79 L192.79 210.2 L193.53 210.62 L194.26 211.04 L194.99 211.47 L195.72 211.9 L196.45 212.34 L197.19 212.78 L197.92 213.23 L198.65 213.69 L199.38 214.15 L200.11 214.61 L200.85 215.08 L201.58 215.56 L202.31 216.04 L203.04 216.52 L203.77 217.02 L204.51 217.51 L205.24 218.02 L205.97 218.53 L206.7 219.04 L207.43 219.57 L208.17 220.09 L208.9 220.63 L209.63 221.17 L210.36 221.71 L211.09 222.27 L211.83 222.82 L212.56 223.39 L213.29 223.96 L214.02 224.54 L214.75 225.13 L215.49 225.72 L216.22 226.32 L216.95 226.93 L217.68 227.54 L218.42 228.16 L219.15 228.79 L219.88 229.43 L220.61 230.07 L221.34 230.72 L222.08 231.38 L222.81 232.05 L223.54 232.72 L224.27 233.41 L225 234.1 L225.74 234.8 L226.47 235.51 L227.2 236.23 L227.93 236.96 L228.66 237.7 L229.4 238.45 L230.13 239.21 L230.86 239.97 L231.59 240.75 L232.32 241.54 L233.06 242.34 L233.79 243.15 L234.52 243.97 L235.25 244.8 L235.98 245.65 L236.72 246.51 L237.45 247.38 L238.18 248.26 L238.91 249.16 L239.64 250.07 L240.38 250.99 L241.11 251.93 L241.84 252.89 L242.57 253.86 L243.3 254.84 L244.04 255.85 L244.77 256.87 L245.5 257.9 L246.23 258.96 L246.97 260.04 L247.7 261.14 L248.43 262.26 L249.16 263.4 L249.89 264.57 L250.63 265.76 L251.36 266.97 L252.09 268.22 L252.82 269.49 L253.55 270.8 L254.29 272.14 L255.02 273.51 L255.75 274.92 L256.48 276.37 L257.21 277.87 L257.95 279.41 L258.68 281.01" stroke="#800080" stroke-width="0.8" stroke-dasharray="3.5 1.2 1 1.2" fill="none"/>
<polygon points="115.7,186.79 116.35,188.1 117.8,188.31 116.75,189.33 117,190.77 115.7,190.09 114.41,190.77 114.66,189.33 113.61,188.31 115.06,188.1" fill="#800080"/>
<polygon points="121.13,186.98 121.78,188.29 123.22,188.5 122.18,189.52 122.42,190.96 121.13,190.28 119.84,190.96 120.08,189.52 119.04,188.5 120.48,188.29" fill="#800080"/>
<polygon points="126.55,187.35 127.2,188.66 128.65,188.87 127.6,189.89 127.85,191.33 126.55,190.65 125.26,191.33 125.51,189.89 124.46,188.87 125.91,188.66" fill="#800080"/>
<polygon points="131.98,187.91 132.63,189.22 134.07,189.43 133.02,190.45 133.27,191.89 131.98,191.21 130.69,191.89 130.93,190.45 129.89,189.43 131.33,189.22" fill="#800080"/>
<polygon points="137.4,188.65 138.05,189.96 139.5,190.17 138.45,191.19 138.7,192.63 137.4,191.95 136.11,192.63 136.36,191.19 135.31,190.17 136.76,189.96" fill="#800080"/>
<polygon points="142.83,189.59 143.48,190.9 144.92,191.11 143.87,192.13 144.12,193.57 142.83,192.89 141.54,193.57 141.78,192.13 140.74,191.11 142.18,190.9" fill="#800080"/>
<polygon points="148.25,190.72 148.9,192.03 150.35,192.24 149.3,193.26 149.55,194.7 148.25,194.02 146.96,194.7 147.21,193.26 146.16,192.24 147.61,192.03" fill="#800080"/>
<polygon points="153.68,192.04 154.32,193.35 155.77,193.56 154.72,194.58 154.97,196.02 153.68,195.34 152.39,196.02 152.63,194.58 151.59,193.56 153.03,193.35" fill="#800080"/>
<polygon points="159.1,193.57 159.75,194.88 161.2,195.09 160.15,196.11 160.4,197.55 159.1,196.87 157.81,197.55 158.06,196.11 157.01,195.09 158.46,194.88" fill="#800080"/>
<polygon points="164.53,195.31 165.17,196.62 166.62,196.83 165.57,197.85 165.82,199.29 164.53,198.61 163.23,199.29 163.48,197.85 162.44,196.83 163.88,196.62" fill="#800080"/>
<polygon points="169.95,197.26 170.6,198.57 172.05,198.78 171,199.8 171.25,201.24 169.95,200.56 168.66,201.24 168.91,199.8 167.86,198.78 169.31,198.57" fill="#800080"/>
<polygon points="175.38,199.42 176.02,200.73 177.47,200.94 176.42,201.96 176.67,203.4 175.38,202.72 174.08,203.4 174.33,201.96 173.29,200.94 174.73,200.73" fill="#800080"/>
<polygon points="180.8,201.82 181.45,203.13 182.9,203.34 181.85,204.36 182.1,205.8 180.8,205.12 179.51,205.8 179.76,204.36 178.71,203.34 180.16,203.13" fill="#800080"/>
<polygon points="186.23,204.46 186.87,205.77 188.32,205.98 187.27,207 187.52,208.44 186.23,207.76 184.93,208.44 185.18,207 184.14,205.98 185.58,205.77" fill="#800080"/>
<polygon points="191.65,207.36 192.3,208.67 193.74,208.88 192.7,209.9 192.95,211.34 191.65,210.66 190.36,211.34 190.61,209.9 189.56,208.88 191.01,208.67" fill="#800080"/>
<polygon points="197.08,210.52 197.72,211.83 199.17,212.04 198.12,213.06 198.37,214.5 197.08,213.82 195.78,214.5 196.03,213.06 194.99,212.04 196.43,211.83" fill="#800080"/>
<polygon points="202.5,213.96 203.15,215.27 204.59,215.48 203.55,216.5 203.8,217.94 202.5,217.26 201.21,217.94 201.46,216.5 200.41,215.48 201.86,215.27" fill="#800080"/>
<polygon points="207.93,217.72 208.57,219.03 210.02,219.24 208.97,220.26 209.22,221.7 207.93,221.02 206.63,221.7 206.88,220.26 205.83,219.24 207.28,219.03" fill="#800080"/>
<polygon points="213.35,221.81 214,223.12 215.44,223.33 214.4,224.35 214.65,225.79 213.35,225.11 212.06,225.79 212.31,224.35 211.26,223.33 212.71,223.12" fill="#800080"/>
<polygon points="218.78,226.27 219.42,227.58 220.87,227.79 219.82,228.81 220.07,230.25 218.78,229.57 217.48,230.25 217.73,228.81 216.68,227.79 218.13,227.58" fill="#800080"/>
<polygon points="224.2,231.14 224.85,232.45 226.29,232.66 225.25,233.68 225.5,235.12 224.2,234.44 222.91,235.12 223.16,233.68 222.11,232.66 223.56,232.45" fill="#800080"/>
<polygon points="229.63,236.49 230.27,237.8 231.72,238.01 230.67,239.03 230.92,240.47 229.63,239.79 228.33,240.47 228.58,239.03 227.53,238.01 228.98,237.8" fill="#800080"/>
<polygon points="235.05,242.37 235.7,243.68 237.14,243.89 236.1,244.91 236.34,246.35 235.05,245.67 233.76,246.35 234.01,244.91 232.96,243.89 234.41,243.68" fill="#800080"/>
<polygon points="240.48,248.92 241.12,250.23 242.57,250.44 241.52,251.46 241.77,252.9 240.48,252.22 239.18,252.9 239.43,251.46 238.38,250.44 239.83,250.23" fill="#800080"/>
<polygon points="245.9,256.28 246.55,257.59 247.99,257.8 246.95,258.82 247.19,260.26 245.9,259.58 244.61,260.26 244.86,258.82 243.81,257.8 245.26,257.59" fill="#800080"/>
<polygon points="251.33,264.72 251.97,266.03 253.42,266.24 252.37,267.26 252.62,268.7 251.33,268.02 250.03,268.7 250.28,267.26 249.23,266.24 250.68,266.03" fill="#800080"/>
<polygon points="256.75,274.72 257.4,276.03 258.84,276.24 257.8,277.26 258.04,278.7 256.75,278.02 255.46,278.7 255.71,277.26 254.66,276.24 256.1,276.03" fill="#800080"/>
<path d="M113 188.97 L113.73 188.97 L114.46 188.98 L115.2 188.99 L115.93 189 L116.66 189.01 L117.39 189.03 L118.12 189.05 L118.86 189.08 L119.59 189.11 L120.32 189.14 L121.05 189.18 L121.78 189.21 L122.52 189.26 L123.25 189.3 L123.98 189.35 L124.71 189.4 L125.44 189.46 L126.18 189.52 L126.91 189.58 L127.64 189.65 L128.37 189.72 L129.11 189.79 L129.84 189.86 L130.57 189.94 L131.3 190.03 L132.03 190.11 L132.77 190.2 L133.5 190.3 L134.23 190.39 L134.96 190.49 L135.69 190.6 L136.43 190.7 L137.16 190.81 L137.89 190.93 L138.62 191.04 L139.35 191.17 L140.09 191.29 L140.82 191.42 L141.55 191.55 L142.28 191.68 L143.01 191.82 L143.75 191.96 L144.48 192.11 L145.21 192.26 L145.94 192.41 L146.67 192.57 L147.41 192.73 L148.14 192.89 L148.87 193.06 L149.6 193.23 L150.33 193.4 L151.07 193.58 L151.8 193.76 L152.53 193.95 L153.26 194.13 L153.99 194.33 L154.73 194.52 L155.46 194.72 L156.19 194.93 L156.92 195.13 L157.66 195.34 L158.39 195.56 L159.12 195.78 L159.85 196 L160.58 196.22 L161.32 196.45 L162.05 196.69 L162.78 196.92 L163.51 197.17 L164.24 197.41 L164.98 197.66 L165.71 197.91 L166.44 198.17 L167.17 198.43 L167.9 198.69 L168.64 198.96 L169.37 199.23 L170.1 199.51 L170.83 199.79 L171.56 200.08 L172.3 200.36 L173.03 200.66 L173.76 200.95 L174.49 201.26 L175.22 201.56 L175.96 201.87 L176.69 202.18 L177.42 202.5 L178.15 202.82 L178.88 203.15 L179.62 203.48 L180.35 203.81 L181.08 204.15 L181.81 204.5 L182.54 204.85 L183.28 205.2 L184.01 205.55 L184.74 205.92 L185.47 206.28 L186.21 206.65 L186.94 207.03 L187.67 207.41 L188.4 207.79 L189.13 208.18 L189.87 208.58 L190.6 208.97 L191.33 209.38 L192.06 209.79 L192.79 210.2 L193.53 210.62 L194.26 211.04 L194.99 211.47 L195.72 211.9 L196.45 212.34 L197.19 212.78 L197.92 213.23 L198.65 213.69 L199.38 214.15 L200.11 214.61 L200.85 215.08 L201.58 215.56 L202.31 216.04 L203.04 216.52 L203.77 217.02 L204.51 217.51 L205.24 218.02 L205.97 218.53 L206.7 219.04 L207.43 219.57 L208.17 220.09 L208.9 220.63 L209.63 221.17 L210.36 221.71 L211.09 222.27 L211.83 222.82 L212.56 223.39 L213.29 223.96 L214.02 224.54 L214.75 225.13 L215.49 225.72 L216.22 226.32 L216.95 226.93 L217.68 227.54 L218.42 228.16 L219.15 228.79 L219.88 229.43 L220.61 230.07 L221.34 230.72 L222.08 231.38 L222.81 232.05 L223.54 232.72 L224.27 233.41 L225 234.1 L225.74 234.8 L226.47 235.51 L227.2 236.23 L227.93 236.96 L228.66 237.7 L229.4 238.45 L230.13 239.21 L230.86 239.97 L231.59 240.75 L232.32 241.54 L233.06 242.34 L233.79 243.15 L234.52 243.97 L235.25 244.8 L235.98 245.65 L236.72 246.51 L237.45 247.38 L238.18 248.26 L238.91 249.16 L239.64 250.07 L240.38 250.99 L241.11 251.93 L241.84 252.89 L242.57 253.86 L243.3 254.84 L244.04 255.85 L244.77 256.87 L245.5 257.9 L246.23 258.96 L246.97 260.04 L247.7 261.14 L248.43 262.26 L249.16 263.4 L249.89 264.57 L250.63 265.76 L251.36 266.97 L252.09 268.22 L252.82 269.49 L253.55 270.8 L254.29 272.14 L255.02 273.51 L255.75 274.92 L256.48 276.37 L257.21 277.87 L257.95 279.41 L258.68 281.01" stroke="#000" stroke-width="1.6" fill="none"/>
<path d="M113 188.97 L113.7 188.97 L114.4 188.98 L115.1 188.99 L115.81 189 L116.51 189.01 L117.21 189.03 L117.91 189.05 L118.61 189.07 L119.31 189.1 L120.01 189.13 L120.72 189.16 L121.42 189.19 L122.12 189.23 L122.82 189.27 L123.52 189.32 L124.22 189.37 L124.92 189.42 L125.62 189.47 L126.33 189.53 L127.03 189.59 L127.73 189.65 L128.43 189.72 L129.13 189.79 L129.83 189.86 L130.53 189.94 L131.24 190.02 L131.94 190.1 L132.64 190.19 L133.34 190.28 L134.04 190.37 L134.74 190.46 L135.44 190.56 L136.15 190.66 L136.85 190.77 L137.55 190.87 L138.25 190.98 L138.95 191.1 L139.65 191.22 L140.35 191.34 L141.06 191.46 L141.76 191.59 L142.46 191.72 L143.16 191.85 L143.86 191.99 L144.56 192.13 L145.26 192.27 L145.97 192.42 L146.67 192.57 L147.37 192.72 L148.07 192.88 L148.77 193.03 L149.47 193.2 L150.17 193.36 L150.87 193.53 L151.58 193.71 L152.28 193.88 L152.98 194.06 L153.68 194.24 L154.38 194.43 L155.08 194.62 L155.78 194.81 L156.49 195.01 L157.19 195.21 L157.89 195.41 L158.59 195.62 L159.29 195.83 L159.99 196.04 L160.69 196.26 L161.4 196.48 L162.1 196.7 L162.8 196.93 L163.5 197.16 L164.2 197.4 L164.9 197.63 L165.6 197.88 L166.31 198.12 L167.01 198.37 L167.71 198.62 L168.41 198.88 L169.11 199.14 L169.81 199.4 L170.51 199.67 L171.22 199.94 L171.92 200.21 L172.62 200.49 L173.32 200.77 L174.02 201.06 L174.72 201.35 L175.42 201.64 L176.12 201.94 L176.83 202.24 L177.53 202.55 L178.23 202.86 L178.93 203.17 L179.63 203.49 L180.33 203.81 L181.03 204.13 L181.74 204.46 L182.44 204.79 L183.14 205.13 L183.84 205.47 L184.54 205.82 L185.24 206.17 L185.94 206.52 L186.65 206.88 L187.35 207.24 L188.05 207.61 L188.75 207.98 L189.45 208.35 L190.15 208.73 L190.85 209.11 L191.56 209.5 L192.26 209.9 L192.96 210.29 L193.66 210.69 L194.36 211.1 L195.06 211.51 L195.76 211.93 L196.47 212.35 L197.17 212.77 L197.87 213.2 L198.57 213.64 L199.27 214.08 L199.97 214.52 L200.67 214.97 L201.37 215.42 L202.08 215.88 L202.78 216.35 L203.48 216.82 L204.18 217.29 L204.88 217.77 L205.58 218.26 L206.28 218.75 L206.99 219.25 L207.69 219.75 L208.39 220.25 L209.09 220.77 L209.79 221.29 L210.49 221.81 L211.19 222.34 L211.9 222.88 L212.6 223.42 L213.3 223.97 L214 224.52 L214.7 225.08 L215.4 225.65 L216.1 226.22 L216.81 226.8 L217.51 227.39 L218.21 227.98 L218.91 228.58 L219.61 229.19 L220.31 229.81 L221.01 230.43 L221.72 231.05 L222.42 231.69 L223.12 232.33 L223.82 232.98 L224.52 233.64 L225.22 234.31 L225.92 234.98 L226.62 235.67 L227.33 236.36 L228.03 237.06 L228.73 237.77 L229.43 238.48 L230.13 239.21 L230.83 239.94 L231.53 240.69 L232.24 241.44 L232.94 242.21 L233.64 242.98 L234.34 243.77 L235.04 244.56 L235.74 245.37 L236.44 246.19 L237.15 247.02 L237.85 247.86 L238.55 248.71 L239.25 249.57 L239.95 250.45 L240.65 251.34 L241.35 252.25 L242.06 253.17 L242.76 254.1 L243.46 255.05 L244.16 256.02 L244.86 257 L245.56 257.99 L246.26 259.01 L246.97 260.04 L247.67 261.09 L248.37 262.16 L249.07 263.26 L249.77 264.37 L250.47 265.51 L251.17 266.67 L251.87 267.85 L252.58 269.06 L253.28 270.3 L253.98 271.57 L254.68 272.87 L255.38 274.21 L256.08 275.58 L256.78 276.99 L257.49 278.44 L258.19 279.93 L258.89 281.48 L259.59 283.08 L260.29 284.74 L260.99 286.46 L261.69 288.26 L262.4 290.15 L263.1 292.13 L263.8 294.23 L264.5 296.46 L265.2 298.85 L265.9 301.45 L266.6 304.31" stroke="#00ff00" stroke-width="0.8" stroke-dasharray="0.8 1.6" fill="none"/>
<circle cx="113" cy="188.97" r="1.75" fill="#00ff00"/>
<circle cx="118.42" cy="189.06" r="1.75" fill="#00ff00"/>
<circle cx="123.85" cy="189.34" r="1.75" fill="#00ff00"/>
<circle cx="129.27" cy="189.81" r="1.75" fill="#00ff00"/>
<circle cx="134.7" cy="190.46" r="1.75" fill="#00ff00"/>
<circle cx="140.12" cy="191.3" r="1.75" fill="#00ff00"/>
<circle cx="145.55" cy="192.33" r="1.75" fill="#00ff00"/>
<circle cx="150.97" cy="193.56" r="1.75" fill="#00ff00"/>
<circle cx="156.4" cy="194.98" r="1.75" fill="#00ff00"/>
<circle cx="161.82" cy="196.62" r="1.75" fill="#00ff00"/>
<circle cx="167.25" cy="198.46" r="1.75" fill="#00ff00"/>
<circle cx="172.67" cy="200.52" r="1.75" fill="#00ff00"/>
<circle cx="178.1" cy="202.8" r="1.75" fill="#00ff00"/>
<circle cx="183.52" cy="205.32" r="1.75" fill="#00ff00"/>
<circle cx="188.95" cy="208.08" r="1.75" fill="#00ff00"/>
<circle cx="194.37" cy="211.11" r="1.75" fill="#00ff00"/>
<circle cx="199.8" cy="214.41" r="1.75" fill="#00ff00"/>
<circle cx="205.22" cy="218.01" r="1.75" fill="#00ff00"/>
<circle cx="210.65" cy="221.93" r="1.75" fill="#00ff00"/>
<circle cx="216.07" cy="226.2" r="1.75" fill="#00ff00"/>
<circle cx="221.5" cy="230.86" r="1.75" fill="#00ff00"/>
<circle cx="226.92" cy="235.96" r="1.75" fill="#00ff00"/>
<circle cx="232.35" cy="241.57" r="1.75" fill="#00ff00"/>
<circle cx="237.77" cy="247.77" r="1.75" fill="#00ff00"/>
<circle cx="243.2" cy="254.7" r="1.75" fill="#00ff00"/>
<circle cx="248.62" cy="262.56" r="1.75" fill="#00ff00"/>
<circle cx="254.05" cy="271.7" r="1.75" fill="#00ff00"/>
<circle cx="259.47" cy="282.81" r="1.75" fill="#00ff00"/>
<circle cx="264.31" cy="295.83" r="1.75" fill="#00ff00"/>
<circle cx="266.6" cy="304.31" r="1.75" fill="#00ff00"/>
</g>
<path d="M121.0 264.4 H137.4" stroke="#00ff00" stroke-width="0.8" stroke-dasharray="0.8 2.2" fill="none"/>
<circle cx="129.2" cy="264.4" r="1.65" fill="#00ff00"/>
<path d="M121.0 278.5 H137.4" stroke="#000" stroke-width="1" fill="none"/>
<path d="M121.0 292.7 H137.4" stroke="#ff00ff" stroke-width="0.8" stroke-dasharray="1 1" fill="none"/>
<polygon points="129.2,290.3 126.95,294.5 131.45,294.5" fill="#ff00ff"/>
<path d="M121.0 307.05 H137.4" stroke="#800080" stroke-width="0.8" stroke-dasharray="3.5 1.2 1 1.2" fill="none"/>
<polygon points="129.2,304.85 129.85,306.16 131.29,306.37 130.25,307.39 130.49,308.83 129.2,308.15 127.91,308.83 128.15,307.39 127.11,306.37 128.55,306.16" fill="#800080"/>
<g font-family="Liberation Serif, serif" font-weight="bold" font-style="italic" font-size="8.5" fill="#000" stroke="#000" stroke-width="0.25">
<text x="141.2" y="267.1">a</text>
<text x="148.2" y="267.1">=</text>
<text x="159.9" y="267.1">0.2 M</text>
<text x="180.9" y="264.3" font-size="5.5">2</text>
<text transform="translate(189.9 267.1) skewX(-12)" font-weight="normal" stroke-width="0.35">λ</text>
<text x="193.6" y="269.3" font-size="6.3">DM</text>
<text x="205.7" y="267.1">= 0.2 M</text>
<text x="141.2" y="281.2">a</text>
<text x="148.2" y="281.2">=</text>
<text x="159.9" y="281.2">0.0 M</text>
<text x="180.9" y="278.4" font-size="5.5">2</text>
<text transform="translate(189.9 281.2) skewX(-12)" font-weight="normal" stroke-width="0.35">λ</text>
<text x="193.6" y="283.4" font-size="6.3">DM</text>
<text x="205.7" y="281.2">= 0.2 M</text>
<text x="141.2" y="295.4">a</text>
<text x="148.2" y="295.4">=</text>
<text x="155.5" y="295.4">-</text>
<text x="160.6" y="295.4">0.2 M</text>
<text x="181.6" y="292.6" font-size="5.5">2</text>
<text transform="translate(190.6 295.4) skewX(-12)" font-weight="normal" stroke-width="0.35">λ</text>
<text x="194.3" y="297.6" font-size="6.3">DM</text>
<text x="206.4" y="295.4">= 0.2 M</text>
<text x="141.2" y="309.75">a</text>
<text x="148.2" y="309.75">=</text>
<text x="155.5" y="309.75">-</text>
<text x="160.6" y="309.75">0.5 M</text>
<text x="181.6" y="306.95" font-size="5.5">2</text>
<text transform="translate(190.6 309.75) skewX(-12)" font-weight="normal" stroke-width="0.35">λ</text>
<text x="194.3" y="311.95" font-size="6.3">DM</text>
<text x="206.4" y="309.75">= 0.2 M</text>
</g>
</svg>
</body></html>
